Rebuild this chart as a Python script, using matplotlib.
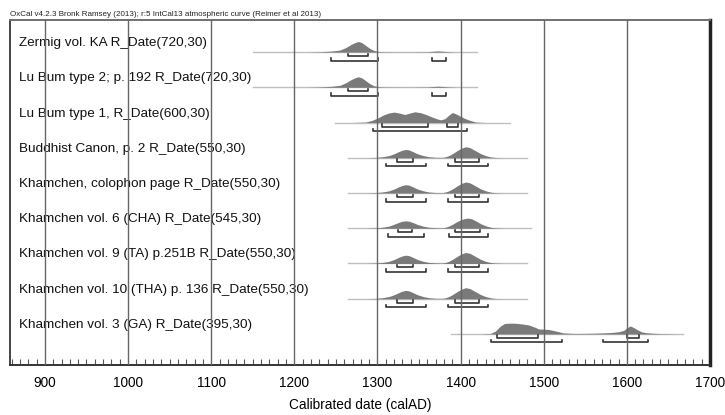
import matplotlib.pyplot as plt
import numpy as np

plt.rcParams['font.family'] = ['Liberation Sans', 'DejaVu Sans']

header = "OxCal v4.2.3 Bronk Ramsey (2013); r:5 IntCal13 atmospheric curve (Reimer et al 2013)"

labels = [
    "Zermig vol. KA R_Date(720,30)",
    "Lu Bum type 2; p. 192 R_Date(720,30)",
    "Lu Bum type 1, R_Date(600,30)",
    "Buddhist Canon, p. 2 R_Date(550,30)",
    "Khamchen, colophon page R_Date(550,30)",
    "Khamchen vol. 6 (CHA) R_Date(545,30)",
    "Khamchen vol. 9 (TA) p.251B R_Date(550,30)",
    "Khamchen vol. 10 (THA) p. 136 R_Date(550,30)",
    "Khamchen vol. 3 (GA) R_Date(395,30)",
]

# extent of the thin line under each distribution (calAD)
line_start = [1150, 1150, 1249, 1264, 1264, 1264, 1264, 1264, 1388]
line_end = [1420, 1420, 1459, 1480, 1480, 1485, 1480, 1480, 1668]

# probability shapes (year, relative height)
yr_720 = [1215, 1230, 1245, 1255, 1262, 1268, 1273, 1277, 1281, 1286, 1291, 1296, 1302, 1310,
          1340, 1360, 1367, 1373, 1379, 1386, 1395]
p_720 = [0, 0.3, 1.0, 2.0, 4.5, 7.5, 9.5, 10.5, 9.5, 6.5, 3.5, 1.5, 0.5, 0.2,
         0.1, 0.3, 0.8, 1.1, 0.8, 0.3, 0]

yr_600 = [1270, 1286, 1293, 1300, 1307, 1314, 1320, 1326, 1333, 1339, 1345, 1352, 1359, 1366,
          1371, 1376, 1381, 1386, 1390, 1394, 1398, 1404, 1410, 1418, 1430]
p_600 = [0, 0.5, 2.0, 4.4, 7.5, 9.6, 10.4, 9.5, 8.0, 9.5, 10.7, 9.8, 7.8, 5.4,
         3.8, 2.7, 3.8, 7.5, 10.0, 8.8, 7.0, 4.5, 2.5, 0.5, 0]

yr_550 = [1285, 1298, 1306, 1314, 1320, 1326, 1330, 1334, 1338, 1343, 1348, 1355, 1362, 1370,
          1378, 1382, 1386, 1391, 1396, 1401, 1406, 1411, 1418, 1424, 1430, 1436, 1442, 1452]
p_550 = [0, 0.4, 1.0, 2.2, 4.0, 6.3, 7.6, 8.3, 7.8, 6.0, 4.0, 2.2, 1.0, 0.5,
         0.4, 1.0, 2.2, 4.5, 7.2, 9.5, 11.0, 10.2, 7.0, 4.2, 2.2, 0.9, 0.3, 0]

yr_545 = [1285, 1298, 1306, 1314, 1320, 1326, 1330, 1334, 1338, 1343, 1348, 1355, 1362, 1370,
          1378, 1382, 1386, 1391, 1396, 1402, 1408, 1413, 1419, 1425, 1431, 1437, 1443, 1455]
p_545 = [0, 0.4, 1.0, 2.2, 4.0, 6.0, 7.0, 7.4, 7.0, 5.6, 3.8, 2.1, 1.0, 0.5,
         0.4, 1.0, 2.2, 4.3, 6.8, 9.0, 10.2, 9.5, 7.0, 4.2, 2.2, 0.9, 0.3, 0]

yr_395 = [1425, 1436, 1442, 1448, 1453, 1460, 1466, 1474, 1482, 1490, 1494, 1500, 1506, 1514,
          1524, 1538, 1550, 1562, 1572, 1582, 1590, 1596, 1601, 1604, 1608, 1612, 1618, 1624,
          1630, 1640, 1650, 1662]
p_395 = [0, 0.5, 3.0, 8.0, 10.5, 10.8, 10.7, 10.0, 9.0, 6.5, 5.0, 4.8, 4.5, 3.0,
         1.0, 0.5, 0.6, 0.8, 1.1, 1.5, 2.2, 3.5, 6.5, 8.0, 6.5, 4.5, 2.0, 1.2,
         0.8, 0.4, 0.2, 0]

dist_years = [yr_720, yr_720, yr_600, yr_550, yr_550, yr_545, yr_550, yr_550, yr_395]
dist_probs = [p_720, p_720, p_600, p_550, p_550, p_545, p_550, p_550, p_395]

# 68.2% and 95.4% ranges
inner_ranges = [
    [(1264, 1289)],
    [(1264, 1289)],
    [(1306, 1361), (1384, 1397)],
    [(1324, 1343), (1393, 1422)],
    [(1324, 1343), (1393, 1422)],
    [(1325, 1342), (1393, 1423)],
    [(1324, 1343), (1393, 1422)],
    [(1324, 1343), (1393, 1422)],
    [(1444, 1493), (1600, 1615)],
]
outer_ranges = [
    [(1244, 1301), (1366, 1382)],
    [(1244, 1301), (1366, 1382)],
    [(1295, 1408)],
    [(1310, 1358), (1385, 1433)],
    [(1310, 1358), (1385, 1433)],
    [(1313, 1356), (1386, 1433)],
    [(1310, 1358), (1385, 1433)],
    [(1310, 1358), (1385, 1433)],
    [(1437, 1522), (1571, 1626)],
]

years_major = [900, 1000, 1100, 1200, 1300, 1400, 1500, 1600, 1700]

px = 1 / 35.2  # one pixel in row units

fig = plt.figure(figsize=(7.25, 4.15), dpi=100)
ax = fig.add_axes([10 / 725, 50 / 415, 700 / 725, 345 / 415])
n = len(labels)
ax.set_xlim(858, 1700)
ax.set_ylim(n - 1 + 31 * px, -32 * px)

for i in range(n):
    ax.plot([line_start[i], line_end[i]], [i, i], color='#c0c0c0', lw=1.0, zorder=1)
    ax.fill_between(dist_years[i], i, i - np.array(dist_probs[i]) * px,
                    color='#7a7a7a', lw=0, zorder=2)
    for lo, hi in inner_ranges[i]:
        yb = i + 4 * px
        ax.plot([lo, lo, hi, hi], [yb - 2.5 * px, yb, yb, yb - 2.5 * px],
                color='#333333', lw=1.2, zorder=3)
    for lo, hi in outer_ranges[i]:
        yb = i + 8.5 * px
        ax.plot([lo, lo, hi, hi], [yb - 2.5 * px, yb, yb, yb - 2.5 * px],
                color='#333333', lw=1.2, zorder=3)
    ax.text(868.5, i - 9 * px, labels[i], fontsize=9.7, color='#111111',
            va='center', ha='left', zorder=2)

for yr in years_major[:-1]:
    ax.axvline(yr, color='#666666', lw=1.0, zorder=4)

ax.set_xticks(years_major)
ax.set_xticks(np.arange(860, 1701, 10), minor=True)
ax.set_yticks([])
ax.tick_params(axis='x', which='major', length=0, pad=8, labelsize=9.8)
ax.tick_params(axis='x', which='minor', direction='in', length=4, width=0.8, color='#555555')
ax.set_xlabel("Calibrated date (calAD)", fontsize=9.8, labelpad=6)

ax.spines['left'].set_color('#444444')
ax.spines['left'].set_linewidth(1.4)
ax.spines['top'].set_color('#707070')
ax.spines['top'].set_linewidth(1.4)
ax.spines['right'].set_color('#222222')
ax.spines['right'].set_linewidth(2.5)
ax.spines['bottom'].set_color('#333333')
ax.spines['bottom'].set_linewidth(1.4)

fig.text(10 / 725, 1 - 15 / 415, header, fontsize=5.8, va='center', ha='left', color='#222222')

fig.savefig('out.png', dpi=100)
